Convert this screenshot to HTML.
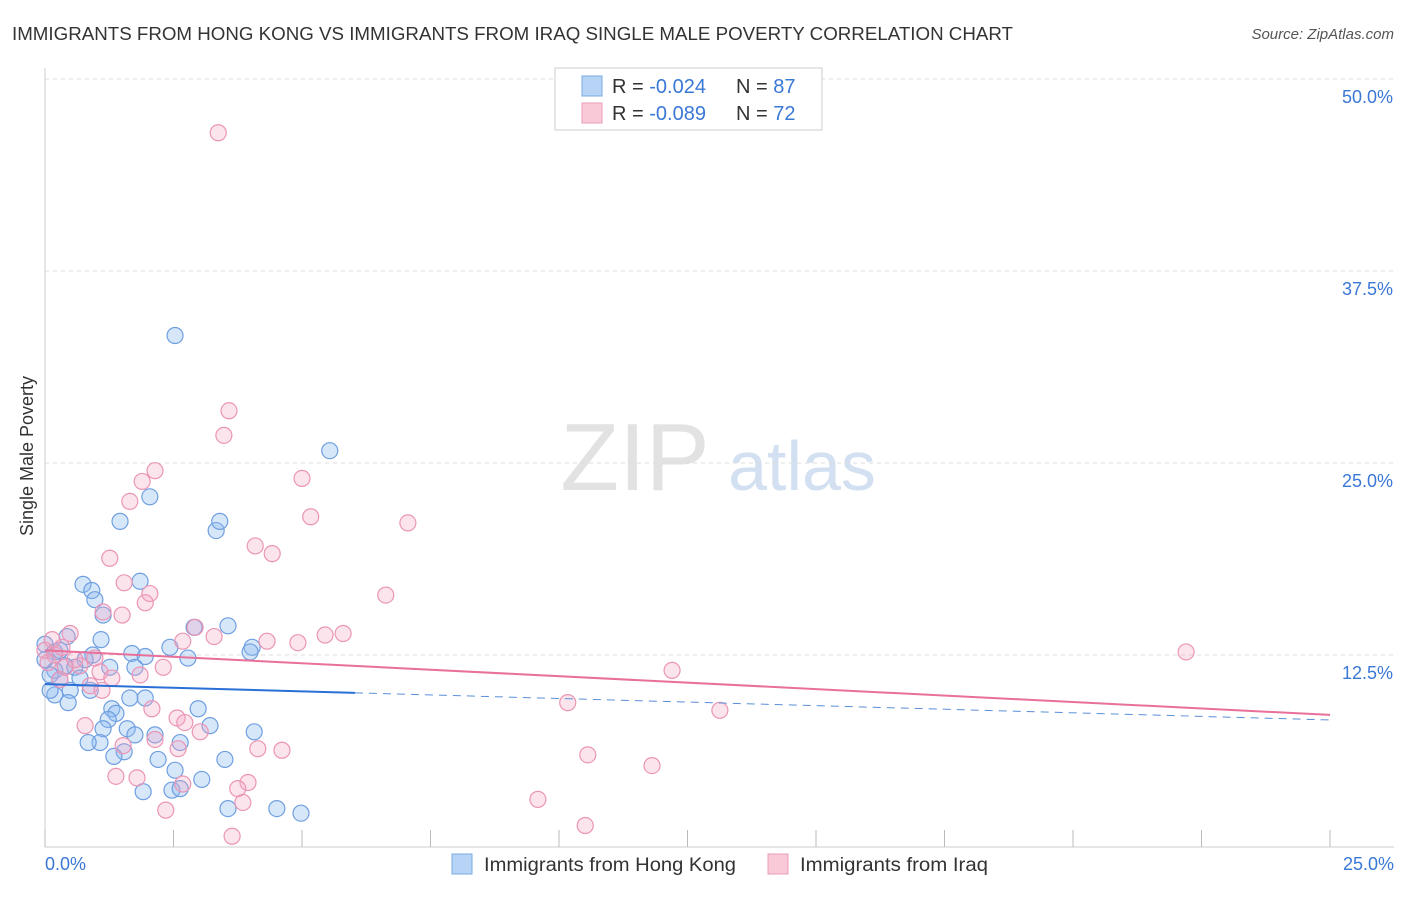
<!DOCTYPE html>
<html><head><meta charset="utf-8"><style>
body{margin:0;background:#fff;font-family:"Liberation Sans",sans-serif;}
svg text{font-family:"Liberation Sans",sans-serif;}
</style></head><body>
<svg id="chart" width="1406" height="892">
<text x="12" y="40" font-size="18" fill="#333" textLength="1001" lengthAdjust="spacingAndGlyphs">IMMIGRANTS FROM HONG KONG VS IMMIGRANTS FROM IRAQ SINGLE MALE POVERTY CORRELATION CHART</text>
<text x="1394" y="39" font-size="15" fill="#555" font-style="italic" text-anchor="end">Source: ZipAtlas.com</text>
<text x="33" y="456" font-size="18" fill="#333" text-anchor="middle" transform="rotate(-90 33 456)">Single Male Poverty</text>
<g><text x="635" y="490" font-size="96" font-family="Liberation Serif" fill="#e2e2e2" text-anchor="middle">ZIP</text><text x="802" y="490" font-size="70" fill="#d2e0f2" text-anchor="middle">atlas</text></g>
<g id="grid"></g><g id="marks"></g>
<g>
<rect x="555" y="68" width="267" height="62" fill="#fff" stroke="#ccc"/>
<rect x="582" y="76" width="20" height="20" fill="#b7d3f5" stroke="#7aa8e0"/>
<rect x="582" y="103" width="20" height="20" fill="#f9c9d8" stroke="#eb9cb8"/>
<text x="612" y="93" font-size="20" fill="#333">R = <tspan fill="#3a78d6">-0.024</tspan></text>
<text x="736" y="93" font-size="20" fill="#333">N = <tspan fill="#3a78d6">87</tspan></text>
<text x="612" y="120" font-size="20" fill="#333">R = <tspan fill="#3a78d6">-0.089</tspan></text>
<text x="736" y="120" font-size="20" fill="#333">N = <tspan fill="#3a78d6">72</tspan></text>
</g>
<g>
<rect x="452" y="854" width="20" height="20" fill="#b7d3f5" stroke="#7aa8e0"/>
<text x="484" y="871" font-size="19" fill="#333" textLength="252" lengthAdjust="spacingAndGlyphs">Immigrants from Hong Kong</text>
<rect x="768" y="854" width="20" height="20" fill="#f9c9d8" stroke="#eb9cb8"/>
<text x="800" y="871" font-size="19" fill="#333" textLength="188" lengthAdjust="spacingAndGlyphs">Immigrants from Iraq</text>
</g>
</svg>
<script>
const yTicks=[12.5,25,37.5,50];
const yTickLabels=["12.5%","25.0%","37.5%","50.0%"];
const xTicks=[0,2.5,5,7.5,10,12.5,15,17.5,20,22.5,25];
const blueX=[2.53,5.54,2.04,1.46,3.33,3.40,0.74,1.85,0.91,0.97,1.13,3.56,2.90,0.43,1.09,0,0.19,1.69,1.95,2.43,2.78,4.03,3.99,0.93,0.78,0.39,0.58,1.26,1.75,0.19,0.10,0.29,0.68,0.88,0.49,0.19,0.45,1.30,1.65,1.95,2.98,1.38,1.23,1.60,1.13,1.75,3.21,2.14,2.63,4.07,1.07,0.84,2.20,1.54,1.34,2.53,3.50,3.05,1.91,2.47,2.63,3.56,4.51,4.98,0,0.29,0.1];
const blueY=[33.3,25.8,22.8,21.2,20.6,21.2,17.1,17.3,16.7,16.1,15.1,14.4,14.3,13.7,13.5,13.2,12.7,12.6,12.4,13.0,12.3,13.0,12.7,12.5,12.2,11.8,11.7,11.7,11.7,11.5,11.2,10.9,11.0,10.2,10.2,9.9,9.4,9.0,9.7,9.7,9.0,8.7,8.3,7.7,7.7,7.3,7.9,7.3,6.8,7.5,6.8,6.8,5.7,6.2,5.9,5.0,5.7,4.4,3.6,3.7,3.8,2.5,2.5,2.2,12.2,12.8,10.2];
const pinkX=[3.37,3.58,3.48,2.14,1.89,1.65,5.00,5.17,7.06,4.09,4.42,1.26,1.54,2.04,1.95,6.63,1.13,1.50,2.92,3.29,4.32,4.92,5.45,5.80,2.68,0.49,0,0.19,0.33,0.97,0.68,1.07,0.29,1.30,1.85,2.30,22.2,12.2,0.88,1.11,2.08,2.57,10.17,13.13,3.02,2.72,0.78,1.52,2.14,2.59,4.14,4.61,10.56,11.81,1.38,1.79,3.95,3.75,2.68,3.85,2.35,9.59,3.64,10.51,0.06,0.39,0.58,0.14];
const pinkY=[46.5,28.4,26.8,24.5,23.8,22.5,24.0,21.5,21.1,19.6,19.1,18.8,17.2,16.5,15.9,16.4,15.3,15.1,14.3,13.7,13.4,13.3,13.8,13.9,13.4,13.9,12.8,12.5,13.0,12.3,11.8,11.4,10.9,11.0,11.2,11.7,12.7,11.5,10.5,10.2,9.0,8.4,9.4,8.9,7.5,8.1,7.9,6.6,7.0,6.4,6.4,6.3,6.0,5.3,4.6,4.5,4.2,3.8,4.1,2.9,2.4,3.1,0.7,1.4,12.0,11.7,12.2,13.5];
const blueTrend=[10.6,8.27], blueSolidEnd=6.03;
const pinkTrend=[12.8,8.6];
const X=v=>45+v/25*1285, Y=v=>847-v/50*768;
const NS="http://www.w3.org/2000/svg";
const grid=document.getElementById('grid'), marks=document.getElementById('marks');
function mk(tag,attrs,parent){const e=document.createElementNS(NS,tag);for(const k in attrs)e.setAttribute(k,attrs[k]);parent.appendChild(e);return e;}
let a=mk('line',{x1:45,x2:45,y1:68,y2:847,stroke:'#ccc'},grid);


let b=mk('line',{x1:45,x2:1394,y1:847,y2:847,stroke:'#ccc'},grid);


yTicks.forEach((t,i)=>{
 const g=mk('line',{x1:45,x2:1394,y1:Y(t),y2:Y(t),stroke:'#ddd','stroke-dasharray':'4 4'},grid);
 
 
 const l=mk('text',{x:1393,y:Y(t)+24,'font-size':18,fill:'#3a78d6','text-anchor':'end'},grid);
 l.textContent=yTickLabels[i];
 
 
});
xTicks.forEach(t=>{
 const k=mk('line',{x1:X(t),x2:X(t),y1:830,y2:847,stroke:'#bbb'},grid);
 
 
});
[["0.0%",45,'start'],["25.0%",1394,'end']].forEach(d=>{
 const l=mk('text',{x:d[1],y:870,'font-size':18,fill:'#3a78d6','text-anchor':d[2]},grid);
 l.textContent=d[0];
 
 
});
blueX.forEach((v,i)=>{
 const c=mk('circle',{cx:X(v),cy:Y(blueY[i]),r:8,fill:'rgba(140,185,240,0.35)',stroke:'#6f9fe0','stroke-width':1.2},marks);
 
 
});
pinkX.forEach((v,i)=>{
 const c=mk('circle',{cx:X(v),cy:Y(pinkY[i]),r:8,fill:'rgba(245,165,195,0.3)',stroke:'#eb95b5','stroke-width':1.2},marks);
 
 
});
const by=x=>blueTrend[0]+(blueTrend[1]-blueTrend[0])*x/25;
let t1=mk('line',{x1:X(0),y1:Y(blueTrend[0]),x2:X(blueSolidEnd),y2:Y(by(blueSolidEnd)),stroke:'#2a6fd6','stroke-width':2},marks);


let t2=mk('line',{x1:X(blueSolidEnd),y1:Y(by(blueSolidEnd)),x2:X(25),y2:Y(blueTrend[1]),stroke:'#5a8fd8','stroke-width':1,'stroke-dasharray':'8 6'},marks);


let t3=mk('line',{x1:X(0),y1:Y(pinkTrend[0]),x2:X(25),y2:Y(pinkTrend[1]),stroke:'#e8709a','stroke-width':2},marks);


</script>
</body></html>
